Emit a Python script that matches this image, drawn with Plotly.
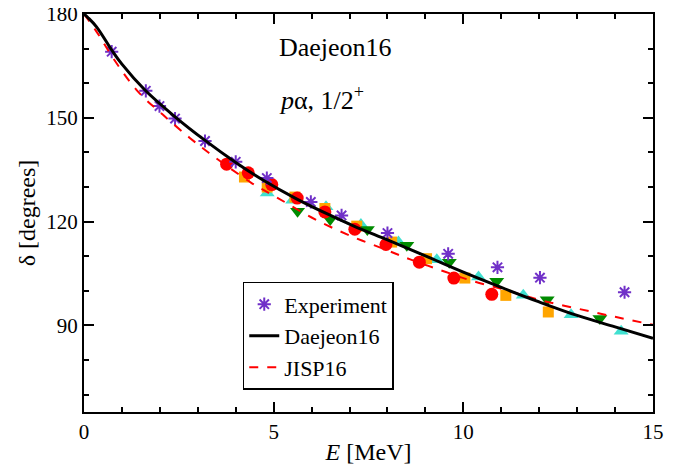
import plotly.graph_objs as go

# experiment, p-alpha 1/2+ phase shifts
exp_E = [0.73, 1.63, 1.99, 2.40, 3.19, 4.00, 4.82, 5.98, 6.79, 8.00, 9.60, 10.90, 12.02, 14.25]
exp_d = [169.1, 157.8, 153.4, 149.8, 143.3, 137.3, 132.6, 125.7, 121.8, 116.7, 110.7, 106.8, 103.8, 99.6]

# Daejeon16 curve
dj_E = [0, 0.1, 0.33, 0.73, 1.0, 1.6, 2.4, 3.2, 4.0, 4.75, 5.6, 6.4, 7.1, 8.0, 9.0, 10.0, 11.0, 12.0, 13.0, 14.0, 15.0]
dj_d = [180, 179.0, 176.3, 169.6, 165.5, 158.1, 150.3, 143.4, 137.1, 131.8, 126.6, 122.3, 118.8, 114.7, 110.1, 105.4, 101.0, 96.8, 92.9, 89.6, 86.3]

# JISP16 curve
jisp_E = [0, 0.2, 0.42, 0.77, 1.43, 2.09, 2.79, 3.28, 4.4, 5.1, 6.0, 7.0, 8.0, 8.6, 9.5, 10.2, 11.1, 12.0, 13.0, 14.0, 15.0]
jisp_d = [180, 177.0, 173.4, 167.2, 157.5, 150.8, 144.2, 140.0, 131.3, 126.9, 121.2, 116.0, 111.7, 109.1, 105.6, 103.0, 100.3, 97.4, 94.9, 92.5, 90.2]

# extrapolated points (different sets)
circ_E = [3.76, 4.33, 4.95, 5.62, 6.35, 7.14, 7.96, 8.84, 9.75, 10.75]
circ_d = [136.6, 134.1, 130.7, 126.8, 122.8, 117.8, 113.4, 108.3, 103.7, 99.0]
sq_E = [4.23, 4.83, 5.56, 6.35, 7.19, 8.11, 9.03, 10.04, 11.12, 12.24]
sq_d = [132.9, 130.0, 127.1, 123.8, 118.7, 114.1, 109.3, 103.7, 98.7, 93.9]
up_E = [4.83, 5.50, 6.38, 7.30, 8.29, 9.30, 10.40, 11.58, 12.84, 14.16]
up_d = [128.3, 126.2, 124.3, 119.2, 114.1, 109.0, 104.0, 98.7, 93.1, 88.3]
dn_E = [5.63, 6.49, 7.47, 8.51, 9.63, 10.88, 12.21, 13.60]
dn_d = [123.0, 120.6, 117.7, 113.2, 108.3, 102.8, 97.4, 92.0]

FONT = 'Liberation Serif'

traces = [
    go.Scatter(x=up_E, y=up_d, mode='markers', showlegend=False,
               marker=dict(symbol='triangle-up', size=13, color='#40E0D0')),
    go.Scatter(x=sq_E, y=sq_d, mode='markers', showlegend=False,
               marker=dict(symbol='square', size=11, color='#FFA500')),
    go.Scatter(x=dn_E, y=dn_d, mode='markers', showlegend=False,
               marker=dict(symbol='triangle-down', size=13, color='#008B00')),
    go.Scatter(x=circ_E, y=circ_d, mode='markers', showlegend=False,
               marker=dict(symbol='circle', size=13, color='#FF0000')),
    go.Scatter(x=exp_E, y=exp_d, mode='markers', name='Experiment', legendrank=1,
               marker=dict(symbol='asterisk-open', size=11, color='#7030C8',
                           line=dict(width=2, color='#7030C8'))),
    go.Scatter(x=jisp_E, y=jisp_d, mode='lines', name='JISP16', legendrank=3,
               line=dict(color='#FF0000', width=2, dash='dash', shape='spline')),
    go.Scatter(x=dj_E, y=dj_d, mode='lines', name='Daejeon16', legendrank=2,
               line=dict(color='black', width=3, shape='spline')),
]

fig = go.Figure(data=traces)

axis_style = dict(showgrid=False, zeroline=False, showline=True, linewidth=2, linecolor='black',
                  mirror='allticks', ticks='inside', ticklen=10, tickwidth=2, tickcolor='black',
                  tickfont=dict(family=FONT, size=21, color='black'), automargin=False,
                  ticklabeloverflow='allow')

fig.update_xaxes(range=[0, 15], tick0=0, dtick=5,
                 minor=dict(dtick=1, ticks='inside', ticklen=5, tickwidth=1.5, tickcolor='black'),
                 title=dict(text='<i>E</i> [MeV]', font=dict(family=FONT, size=24, color='black'), standoff=0),
                 **axis_style)
fig.update_yaxes(range=[65, 180], tick0=0, dtick=30,
                 minor=dict(dtick=10, ticks='inside', ticklen=5, tickwidth=1.5, tickcolor='black'),
                 title=dict(text='δ [degrees]', font=dict(family=FONT, size=24, color='black'), standoff=4),
                 **axis_style)

fig.add_annotation(x=5.1, y=170.2, xref='x', yref='y', xanchor='left', yanchor='middle',
                   text='Daejeon16', showarrow=False, font=dict(family=FONT, size=26, color='black'))
fig.add_annotation(x=5.1, y=155.7, xref='x', yref='y', xanchor='left', yanchor='middle',
                   text='<i>p</i>α, 1/2<sup>+</sup>', showarrow=False,
                   font=dict(family=FONT, size=26, color='black'))

# page has an 8px body margin, so the figure is a bit smaller than the window
fig.update_layout(width=688, height=457,
                  margin=dict(l=76, r=43, t=6, b=53),
                  paper_bgcolor='white', plot_bgcolor='white',
                  font=dict(family=FONT, color='black'),
                  legend=dict(x=0.279, y=0.327, xanchor='left', yanchor='top',
                              bordercolor='black', borderwidth=1.5, bgcolor='white',
                              font=dict(family=FONT, size=22, color='black'),
                              tracegroupgap=0, itemwidth=30))

fig.write_html("out.html")
